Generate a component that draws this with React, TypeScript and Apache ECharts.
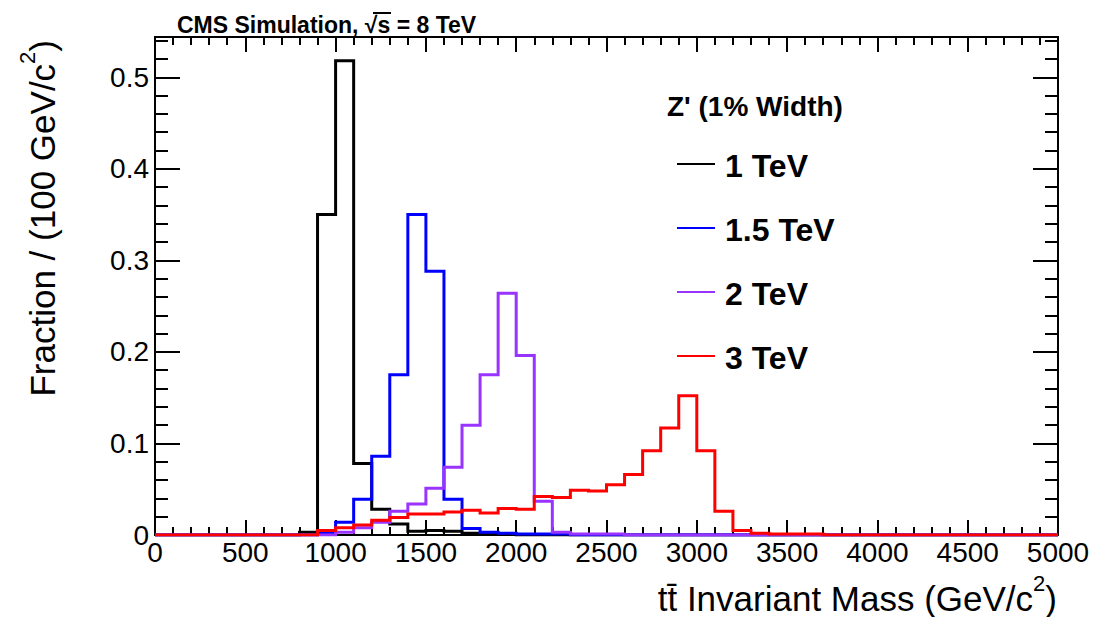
import React, { useEffect, useRef } from 'react';
import * as echarts from 'echarts';

// Histogram binning (GeV/c^2)
const BIN_WIDTH = 100;
const X_MIN = 0;
const X_MAX = 5000;
const Y_MAX = 0.544;

// Fraction of events per 100 GeV/c^2 bin, 50 bins from 0 to 5000
const z1TeV = [
  0, 0, 0, 0, 0, 0, 0, 0, 0.003, 0.35,
  0.518, 0.078, 0.028, 0.012, 0.004, 0.005, 0.004, 0.002, 0.001, 0.001,
  0, 0, 0, 0, 0, 0, 0, 0, 0, 0,
  0, 0, 0, 0, 0, 0, 0, 0, 0, 0,
  0, 0, 0, 0, 0, 0, 0, 0, 0, 0,
];
const z15TeV = [
  0, 0, 0, 0, 0, 0, 0, 0, 0, 0.002,
  0.014, 0.039, 0.086, 0.175, 0.35, 0.288, 0.039, 0.007, 0.003, 0.002,
  0.001, 0.001, 0.001, 0, 0, 0, 0, 0, 0, 0,
  0, 0, 0, 0, 0, 0, 0, 0, 0, 0,
  0, 0, 0, 0, 0, 0, 0, 0, 0, 0,
];
const z2TeV = [
  0, 0, 0, 0, 0, 0, 0, 0, 0, 0,
  0.003, 0.008, 0.014, 0.026, 0.034, 0.051, 0.074, 0.12, 0.175, 0.264,
  0.196, 0.037, 0.003, 0.001, 0.001, 0.001, 0, 0, 0, 0,
  0, 0, 0, 0, 0, 0, 0, 0, 0, 0,
  0, 0, 0, 0, 0, 0, 0, 0, 0, 0,
];
const z3TeV = [
  0, 0, 0, 0, 0, 0, 0, 0, 0, 0.005,
  0.008, 0.011, 0.016, 0.019, 0.023, 0.023, 0.025, 0.027, 0.024, 0.029,
  0.028, 0.042, 0.041, 0.049, 0.048, 0.055, 0.066, 0.092, 0.117, 0.152,
  0.092, 0.026, 0.005, 0.002, 0.001, 0.001, 0.001, 0, 0, 0,
  0, 0, 0, 0, 0, 0, 0, 0, 0, 0,
];

const seriesNames = ['1 TeV', '1.5 TeV', '2 TeV', '3 TeV'];
const seriesColors = ['#000000', '#0000ff', '#9933ff', '#ff0000'];
const seriesValues = [z1TeV, z15TeV, z2TeV, z3TeV];

const legendTitle = "Z' (1% Width)";
const plotTitle = 'CMS Simulation, \u221As = 8 TeV';

const FONT = "'Liberation Sans', Arial, Helvetica, sans-serif";

// Convert per-bin contents into step points: one point at each bin's lower edge,
// plus a closing point at the upper edge of the last bin.
function toSteps(values: number[]): number[][] {
  const pts = values.map((v, i) => [X_MIN + i * BIN_WIDTH, v]);
  pts.push([X_MAX, values[values.length - 1]]);
  return pts;
}

const black = '#000000';

function xAxisDef(position: 'bottom' | 'top', showLabels: boolean) {
  return {
    type: 'value',
    position,
    min: X_MIN,
    max: X_MAX,
    interval: 500,
    axisLine: { show: true, onZero: false, lineStyle: { color: black, width: 2 } },
    axisTick: { show: true, inside: true, length: 15, lineStyle: { color: black, width: 2 } },
    minorTick: { show: true, splitNumber: 5, length: 8, lineStyle: { color: black, width: 2 } },
    axisLabel: {
      show: showLabels,
      color: black,
      fontSize: 28,
      fontFamily: FONT,
      margin: 3,
      formatter: (v: number) => String(v),
    },
    splitLine: { show: false },
    minorSplitLine: { show: false },
  };
}

function yAxisDef(position: 'left' | 'right', interval: number, tickLen: number, showLabels: boolean) {
  return {
    type: 'value',
    position,
    min: 0,
    max: Y_MAX,
    interval,
    axisLine: { show: true, onZero: false, lineStyle: { color: black, width: 2 } },
    axisTick: { show: true, inside: true, length: tickLen, lineStyle: { color: black, width: 2 } },
    axisLabel: {
      show: showLabels,
      showMaxLabel: false,
      color: black,
      fontSize: 28,
      fontFamily: FONT,
      margin: 6,
      formatter: (v: number) => (v === 0 ? '0' : v.toFixed(1)),
    },
    splitLine: { show: false },
  };
}

function textStyle(text: string, font: string, align: string, vAlign: string) {
  return {
    text,
    font,
    fill: black,
    align,
    verticalAlign: vAlign,
    textAlign: align,
    textVerticalAlign: vAlign,
  };
}

export default function App() {
  const ref = useRef<HTMLDivElement | null>(null);

  useEffect(() => {
    if (!ref.current) return;
    const chart = echarts.init(ref.current, undefined, { renderer: 'svg' });

    const legendRows = [164, 228, 292, 356];
    const legendGraphics: any[] = [];
    seriesNames.forEach((name, i) => {
      legendGraphics.push({
        type: 'line',
        shape: { x1: 677, y1: legendRows[i], x2: 715, y2: legendRows[i] },
        style: { stroke: seriesColors[i], lineWidth: 2 },
      });
      legendGraphics.push({
        type: 'text',
        x: 725,
        y: legendRows[i] + 2,
        style: textStyle(name, `bold 32px ${FONT}`, 'left', 'middle'),
      });
    });

    const titleRich = {
      m: { fontSize: 35, fontFamily: FONT, lineHeight: 44, verticalAlign: 'bottom', color: black },
      s: { fontSize: 22, fontFamily: FONT, lineHeight: 22, verticalAlign: 'top', color: black },
    };

    chart.setOption({
      animation: false,
      backgroundColor: '#ffffff',
      grid: { left: 155, right: 57, top: 37, bottom: 82, containLabel: false },
      xAxis: [xAxisDef('bottom', true), xAxisDef('top', false)],
      yAxis: [
        yAxisDef('left', 0.1, 25, true),
        yAxisDef('left', 0.02, 13, false),
        yAxisDef('right', 0.1, 25, false),
        yAxisDef('right', 0.02, 13, false),
      ],
      series: seriesValues.map((vals, i) => ({
        name: seriesNames[i],
        type: 'line',
        step: 'end',
        xAxisIndex: 0,
        yAxisIndex: 0,
        symbol: 'none',
        clip: true,
        lineStyle: { color: seriesColors[i], width: 3, join: 'miter' },
        data: toSteps(vals),
        z: 3 + i,
      })),
      graphic: [
        {
          type: 'text',
          x: 177,
          y: 24.5,
          style: textStyle(plotTitle, `bold 23px ${FONT}`, 'left', 'middle'),
        },
        // bar over the "s" under the square root
        {
          type: 'line',
          shape: { x1: 373, y1: 13, x2: 391, y2: 13 },
          style: { stroke: black, lineWidth: 2 },
        },
        {
          type: 'text',
          x: 667,
          y: 106,
          style: textStyle(legendTitle, `bold 28px ${FONT}`, 'left', 'middle'),
        },
        ...legendGraphics,
        {
          type: 'text',
          x: 1057,
          y: 572,
          style: {
            text: '{m|t\u0074\u0304 Invariant Mass (GeV/c}{s|2}{m|)}',
            rich: titleRich,
            fill: black,
            align: 'right',
            verticalAlign: 'top',
            textAlign: 'right',
            textVerticalAlign: 'top',
          },
        },
        {
          type: 'text',
          x: 16,
          y: 40,
          rotation: Math.PI / 2,
          style: {
            text: '{m|Fraction / (100 GeV/c}{s|2}{m|)}',
            rich: titleRich,
            fill: black,
            align: 'right',
            verticalAlign: 'top',
            textAlign: 'right',
            textVerticalAlign: 'top',
          },
        },
      ],
    });

    return () => chart.dispose();
  }, []);

  return (
    <div
      ref={ref}
      style={{ position: 'absolute', left: 0, top: 0, width: 1115, height: 617 }}
    />
  );
}
